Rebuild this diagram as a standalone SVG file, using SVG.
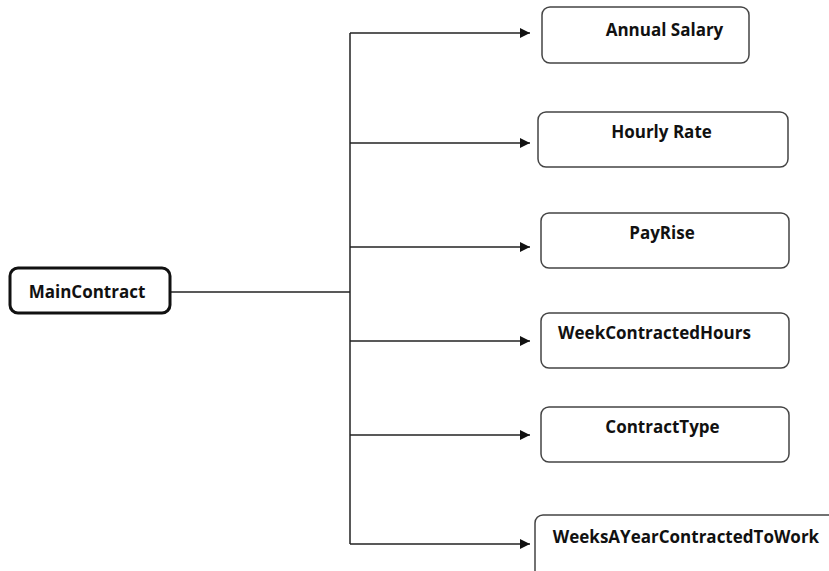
<svg xmlns="http://www.w3.org/2000/svg" width="829" height="571" viewBox="0 0 829 571">
  <defs>
    <marker id="arrow" viewBox="0 0 10 10" refX="10" refY="5" markerWidth="10" markerHeight="10" markerUnits="userSpaceOnUse" orient="auto">
      <path d="M0,0 L10,5 L0,10 Z" fill="#111"/>
    </marker>
  </defs>
  <style>
    .box { fill: #fff; stroke: #444; stroke-width: 1.5; }
    .root { fill: #fff; stroke: #111; stroke-width: 3; }
    .label { font-family: "Open Sans", "Liberation Sans", sans-serif; font-weight: bold; font-size: 17px; fill: #111; text-anchor: middle; }
    .wire { fill: none; stroke: #222; stroke-width: 1.5; }
  </style>
  <rect width="829" height="571" fill="#fff"/>

  <g id="connectors">
    <path class="wire" d="M170,292 H350"/>
    <path class="wire" d="M350,33 V544"/>
    <path class="wire" d="M350,33 H530" marker-end="url(#arrow)"/>
    <path class="wire" d="M350,143 H530" marker-end="url(#arrow)"/>
    <path class="wire" d="M350,247 H530" marker-end="url(#arrow)"/>
    <path class="wire" d="M350,341 H530" marker-end="url(#arrow)"/>
    <path class="wire" d="M350,435 H530" marker-end="url(#arrow)"/>
    <path class="wire" d="M350,544 H530" marker-end="url(#arrow)"/>
  </g>

  <g id="main-contract">
    <rect class="root" x="10" y="268" width="160" height="45" rx="8"/>
    <text class="label" x="87" y="298">MainContract</text>
  </g>
  <g id="annual-salary">
    <rect class="box" x="542" y="7" width="207" height="56" rx="8"/>
    <text class="label" x="664.5" y="36">Annual Salary</text>
  </g>
  <g id="hourly-rate">
    <rect class="box" x="538" y="112" width="250" height="55" rx="8"/>
    <text class="label" x="661.5" y="138">Hourly Rate</text>
  </g>
  <g id="pay-rise">
    <rect class="box" x="541" y="213" width="248" height="55" rx="8"/>
    <text class="label" x="662" y="239">PayRise</text>
  </g>
  <g id="week-contracted-hours">
    <rect class="box" x="541" y="313" width="248" height="55" rx="8"/>
    <text class="label" x="654.5" y="339">WeekContractedHours</text>
  </g>
  <g id="contract-type">
    <rect class="box" x="541" y="407" width="248" height="55" rx="8"/>
    <text class="label" x="662.5" y="433">ContractType</text>
  </g>
  <g id="weeks-a-year">
    <rect class="box" x="535" y="515" width="320" height="80" rx="8"/>
    <text class="label" x="686" y="543">WeeksAYearContractedToWork</text>
  </g>
</svg>
